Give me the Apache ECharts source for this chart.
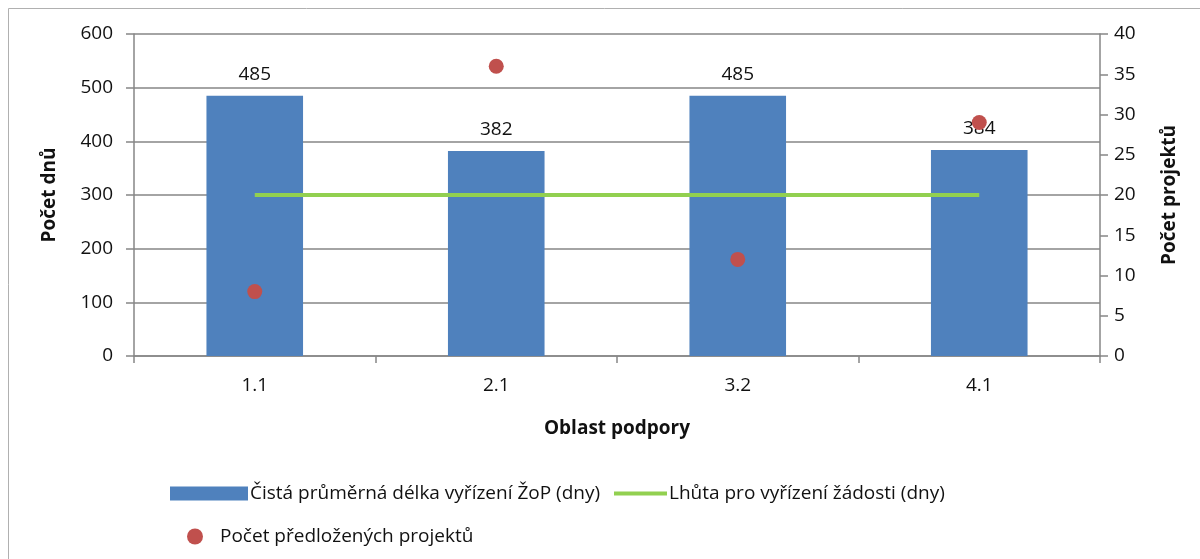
<!DOCTYPE html>
<html><head><meta charset="utf-8">
<script src="https://cdn.jsdelivr.net/npm/echarts@6/dist/echarts.min.js"></script>
<style>html,body{margin:0;padding:0;background:#fff}#c{width:1200px;height:559px}</style>
</head><body><div id="c"></div>
<script>
const categories = ['1.1', '2.1', '3.2', '4.1'];
const avgDays = [485, 382, 485, 384];
const deadlineDays = [300, 300, 300, 300];
const projects = [8, 36, 12, 29];
const leftTicks = {min: 0, max: 600, interval: 100};
const rightTicks = {min: 0, max: 40, interval: 5};

const FONT = 'Open Sans';
const FS = 19;
const TXT = '#111';
const AX = '#868686';
const chart = echarts.init(document.getElementById('c'), null, {renderer: 'canvas'});
chart.setOption({
  animation: false,
  textStyle: {fontFamily: FONT, color: TXT},
  graphic: [{type: 'rect', shape: {x: 8.5, y: 8.5, width: 1300, height: 700}, style: {fill: 'none', stroke: '#b0b0b0', lineWidth: 1}, silent: true}],
  grid: {left: 134, right: 100, top: 34, bottom: 203, containLabel: false},
  legend: [
    {left: 165, top: 479, itemWidth: 78, itemHeight: 14, itemGap: 8, textStyle: {fontFamily: FONT, fontSize: FS, color: TXT, padding: [0,0,0,-3]}, data: [{name: 'Čistá průměrná délka vyřízení ŽoP (dny)', icon: 'rect'}]},
    {left: 609, top: 479, itemWidth: 53, itemHeight: 4, textStyle: {fontFamily: FONT, fontSize: FS, color: TXT, padding: [0,0,0,-3]}, data: [{name: 'Lhůta pro vyřízení žádosti (dny)', icon: 'rect', itemStyle: {color: '#92D050'}}]},
    {left: 182, top: 522, itemWidth: 16, itemHeight: 16, itemGap: 8, textStyle: {fontFamily: FONT, fontSize: FS, color: TXT, padding: [0,0,0,12]}, data: [{name: 'Počet předložených projektů', icon: 'circle'}]}
  ],
  xAxis: {
    type: 'category', data: categories,
    name: 'Oblast podpory', nameLocation: 'middle', nameGap: 63,
    nameTextStyle: {fontFamily: FONT, fontSize: FS, fontWeight: 'bold', color: TXT},
    axisLine: {lineStyle: {color: AX, width: 1.5}},
    axisTick: {show: true, length: 7, lineStyle: {color: AX, width: 1.5}},
    axisLabel: {fontFamily: FONT, fontSize: FS, color: TXT, margin: 20}
  },
  yAxis: [
    {type: 'value', min: leftTicks.min, max: leftTicks.max, interval: leftTicks.interval,
     name: 'Počet dnů', nameLocation: 'middle', nameGap: 75, nameRotate: 90,
     nameTextStyle: {fontFamily: FONT, fontSize: FS, fontWeight: 'bold', color: TXT},
     axisLine: {show: true, lineStyle: {color: AX, width: 1.5}},
     axisTick: {show: true, length: 8, lineStyle: {color: AX, width: 1.5}},
     splitLine: {show: true, lineStyle: {color: AX, width: 1.5}},
     axisLabel: {fontFamily: FONT, fontSize: FS, color: TXT, margin: 21}},
    {type: 'value', min: rightTicks.min, max: rightTicks.max, interval: rightTicks.interval, position: 'right',
     name: 'Počet projektů', nameLocation: 'middle', nameGap: 60, nameRotate: 90,
     nameTextStyle: {fontFamily: FONT, fontSize: FS, fontWeight: 'bold', color: TXT},
     axisLine: {show: true, lineStyle: {color: AX, width: 1.5}},
     axisTick: {show: true, length: 8, lineStyle: {color: AX, width: 1.5}},
     splitLine: {show: false},
     axisLabel: {fontFamily: FONT, fontSize: FS, color: TXT, margin: 14}}
  ],
  series: [
    {name: 'Čistá průměrná délka vyřízení ŽoP (dny)', type: 'bar', data: avgDays, barWidth: '40%',
     itemStyle: {color: '#4F81BD'},
     label: {show: true, position: 'top', distance: 12, fontFamily: FONT, fontSize: FS, color: TXT}},
    {name: 'Lhůta pro vyřízení žádosti (dny)', type: 'line', data: deadlineDays, symbol: 'none',
     lineStyle: {color: '#92D050', width: 4}, itemStyle: {color: '#92D050'}},
    {name: 'Počet předložených projektů', type: 'scatter', yAxisIndex: 1, data: projects, symbolSize: 15,
     itemStyle: {color: '#C0504D', opacity: 1}, z: 5}
  ]
});
</script></body></html>
